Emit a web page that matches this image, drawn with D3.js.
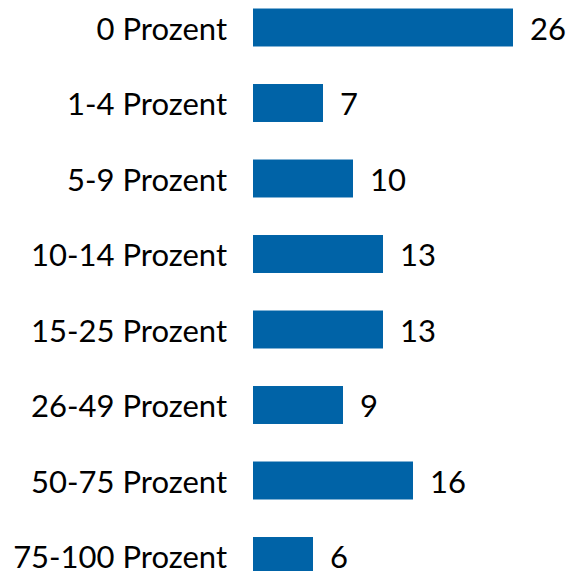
<!DOCTYPE html>
<html>
<head>
<meta charset="utf-8">
<script src="https://cdn.jsdelivr.net/npm/d3@7"></script>
<style>
  html, body { margin: 0; padding: 0; background: #fff; overflow: hidden; }
</style>
</head>
<body>
<div class="chart"></div>
<script>
// Categories and values
const categories = ["0 Prozent", "1-4 Prozent", "5-9 Prozent", "10-14 Prozent",
    "15-25 Prozent", "26-49 Prozent", "50-75 Prozent", "75-100 Prozent"]
const values = [26, 7, 10, 13, 13, 9, 16, 6]

const width = 567
const height = 571
const barColor = "#0063a7"
const fontFamily = "Lato, 'Open Sans', sans-serif"
const fontSize = "31px"

const data = categories.map((c, i) => ({ name: c, value: values[i] }))

const svg = d3.select(".chart").append("svg")
    .attr("width", width)
    .attr("height", height)
    .attr("viewBox", [0, 0, width, height])

// Scales
const step = 75.5
const y = d3.scaleBand()
    .domain(categories)
    .range([-10.25, -10.25 + step * categories.length])
    .paddingInner(0.497)
    .paddingOuter(0.2485)

const x = d3.scaleLinear()
    .domain([0, 26])
    .range([253, 513])

// Bars
svg.append("g")
    .selectAll()
    .data(data)
    .join("rect")
        .attr("x", x(0))
        .attr("y", d => y(d.name))
        .attr("width", d => x(d.value) - x(0))
        .attr("height", y.bandwidth())
        .attr("fill", barColor)

// Category labels
svg.append("g")
    .selectAll()
    .data(data)
    .join("text")
        .attr("x", x(0) - 26)
        .attr("y", d => y(d.name) + y.bandwidth() / 2 + 1.5)
        .attr("dy", "0.35em")
        .attr("text-anchor", "end")
        .attr("font-family", fontFamily)
        .attr("font-size", fontSize)
        .attr("fill", "#000")
        .text(d => d.name)

// Value labels
svg.append("g")
    .selectAll()
    .data(data)
    .join("text")
        .attr("x", d => x(d.value) + 17)
        .attr("y", d => y(d.name) + y.bandwidth() / 2 + 1.5)
        .attr("dy", "0.35em")
        .attr("font-family", fontFamily)
        .attr("font-size", fontSize)
        .attr("fill", "#000")
        .text(d => d.value)
</script>
</body>
</html>
